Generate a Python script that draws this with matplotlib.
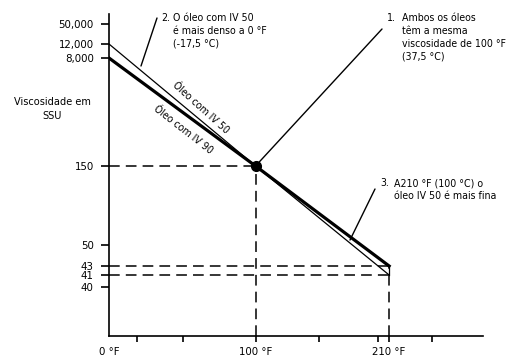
import numpy as np
import matplotlib
matplotlib.use('Agg')
import matplotlib.pyplot as plt

# フォント設定（細めのサンセリフ）
plt.rcParams['font.family'] = ['DejaVu Sans']
plt.rcParams['font.stretch'] = 'condensed'
plt.rcParams['font.size'] = 7.6

# データ
temps_f = [0, 100, 210]
ssu_iv90 = [8000, 150, 43]
ssu_iv50 = [12000, 150, 41]

x_ticks = [0, 17.5, 48, 100, 150, 200, 210, 250]
x_tick_labels = ['0 °F', '', '', '100 °F', '', '', '210 °F', '']
y_ticks = [40, 41, 43, 50, 150, 8000, 12000, 50000]
y_tick_labels = ['40', '41', '43', '50', '150', '8,000', '12,000', '50,000']

# 縦軸は模式的な目盛り（ピクセル高さで対応づけ）
y_anchor_vals = [30, 40, 41, 43, 50, 150, 8000, 12000, 50000, 80000]
y_anchor_pos = [0, 49, 61, 70, 91, 170, 278, 292, 312, 322]
log_anchor = np.log10(y_anchor_vals)


def y_fwd(v):
    v = np.clip(np.asarray(v, dtype=float), 1e-6, None)
    return np.interp(np.log10(v), log_anchor, y_anchor_pos)


def y_inv(h):
    return 10 ** np.interp(h, y_anchor_pos, log_anchor)


# 横軸は絶対温度（ランキン）の対数
def x_fwd(t):
    return np.log10(np.asarray(t, dtype=float) + 459.67)


def x_inv(u):
    return 10 ** np.asarray(u, dtype=float) - 459.67


W, H = 512, 358
fig = plt.figure(figsize=(W / 100, H / 100), dpi=100)
ax = fig.add_axes([109 / W, 22 / H, (483 - 109) / W, (344 - 22) / H])
ax.set_xscale('function', functions=(x_fwd, x_inv))
ax.set_yscale('function', functions=(y_fwd, y_inv))
ax.set_xlim(0, 300)
ax.set_ylim(30, 80000)

# 破線の補助線
dash = dict(color='black', lw=1.1, linestyle=(0, (7, 4)))
ax.plot([0, 100], [150, 150], **dash)
ax.plot([100, 100], [30, 150], **dash)
ax.plot([0, 210], [43, 43], **dash)
ax.plot([0, 210], [41, 41], **dash)
ax.plot([210, 210], [30, 43], **dash)

# 粘度線
ax.plot(temps_f, ssu_iv50, color='black', lw=0.9)
ax.plot(temps_f, ssu_iv90, color='black', lw=2.3)
ax.plot([210, 210], [41, 43], color='black', lw=0.9)
ax.plot([100], [150], 'o', color='black', ms=7)

# 軸
for s in ['top', 'right']:
    ax.spines[s].set_visible(False)
ax.spines['left'].set_linewidth(1.2)
ax.spines['bottom'].set_linewidth(1.2)
ax.set_xticks(x_ticks)
ax.set_xticklabels(x_tick_labels)
ax.xaxis.set_minor_locator(matplotlib.ticker.NullLocator())
ax.yaxis.set_minor_locator(matplotlib.ticker.NullLocator())
ax.set_yticks(y_ticks)
ax.set_yticklabels(y_tick_labels)
ax.tick_params(axis='both', labelsize=8.2)
ax.tick_params(axis='x', direction='out', length=4.5, width=1.2, pad=3.5)
ax.tick_params(axis='y', direction='out', length=6, width=1.2, pad=5)
ax.xaxis.get_major_ticks()[0].tick1line.set_visible(False)

# ラベル類（図のピクセル座標で配置）
def px(x, y):
    return x / W, 1 - y / H


fig.text(*px(52, 109), 'Viscosidade em\nSSU', ha='center', va='center',
         linespacing=1.4, fontsize=7.8)

fig.text(*px(201, 108), 'Óleo com IV 50', rotation=-42, ha='center',
         va='center', rotation_mode='anchor')
fig.text(*px(183, 130), 'Óleo com IV 90', rotation=-38, ha='center',
         va='center', rotation_mode='anchor')

note = dict(ha='left', va='top', linespacing=1.35)

# 注記1
fig.text(*px(387, 13), '1.', **note)
fig.text(*px(402, 13), 'Ambos os óleos\ntêm a mesma\nviscosidade de 100 °F\n(37,5 °C)',
         **note)
ax.annotate('', xy=(100, 150), xycoords='data', xytext=(382, H - 29),
            textcoords='figure pixels',
            arrowprops=dict(arrowstyle='-', lw=1.0, color='black',
                            shrinkA=0, shrinkB=0))

# 注記2
fig.text(*px(161, 13), '2.', **note)
fig.text(*px(173, 13), 'O óleo com IV 50\né mais denso a 0 °F\n(-17,5 °C)', **note)
ax.annotate('', xy=(141, H - 66), xycoords='figure pixels',
            xytext=(157, H - 18), textcoords='figure pixels',
            arrowprops=dict(arrowstyle='-', lw=1.0, color='black',
                            shrinkA=0, shrinkB=0))

# 注記3
fig.text(*px(380, 178), '3.', **note)
fig.text(*px(394, 178), 'A210 °F (100 °C) o\nóleo IV 50 é mais fina', **note)
ax.annotate('', xy=(350, H - 240), xycoords='figure pixels',
            xytext=(375, H - 189), textcoords='figure pixels',
            arrowprops=dict(arrowstyle='-', lw=1.0, color='black',
                            shrinkA=0, shrinkB=0))

fig.savefig('out.png', dpi=100)
